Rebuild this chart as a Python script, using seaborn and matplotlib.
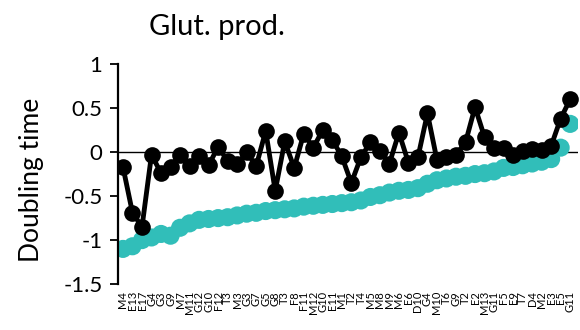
import matplotlib
matplotlib.use("Agg")
import matplotlib.pyplot as plt
import seaborn as sns
import pandas as pd

strains = ["M4", "E13", "E17", "G4", "G3", "G9", "M7", "M11", "G12", "G10",
           "F12", "T3", "M3", "G3", "G7", "G5", "G8", "T3", "F8", "F11",
           "M12", "G10", "E11", "M1", "T2", "T4", "M5", "M8", "M9", "M6",
           "E6", "D10", "G4", "M10", "T6", "G9", "T2", "E2", "M13", "G11",
           "F5", "E9", "T7", "D4", "M2", "E3", "E5", "G11"]

glut_prod = [-0.17, -0.69, -0.85, -0.03, -0.24, -0.17, -0.03, -0.16, -0.05, -0.15,
             0.06, -0.10, -0.14, 0.00, -0.16, 0.24, -0.44, 0.12, -0.18, 0.21,
             0.05, 0.25, 0.14, -0.05, -0.35, -0.06, 0.11, 0.01, -0.13, 0.22,
             -0.12, -0.06, 0.44, -0.09, -0.06, -0.03, 0.11, 0.51, 0.17, 0.05,
             0.05, -0.03, 0.01, 0.03, 0.02, 0.07, 0.38, 0.60]

doubling = [-1.10, -1.07, -1.00, -0.97, -0.93, -0.95, -0.86, -0.81, -0.77, -0.76,
            -0.75, -0.74, -0.72, -0.70, -0.69, -0.67, -0.66, -0.65, -0.64, -0.62,
            -0.61, -0.60, -0.59, -0.58, -0.57, -0.55, -0.51, -0.49, -0.46, -0.44,
            -0.43, -0.41, -0.36, -0.32, -0.30, -0.28, -0.27, -0.25, -0.24, -0.22,
            -0.18, -0.17, -0.15, -0.13, -0.11, -0.08, 0.05, 0.32]

df = pd.DataFrame({"idx": range(len(strains)), "strain": strains,
                   "glut": glut_prod, "dt": doubling})

sns.set_theme(style="white")
plt.rcParams["font.family"] = ["Lato", "DejaVu Sans"]
plt.rcParams["text.color"] = "black"
plt.rcParams["xtick.color"] = "black"
plt.rcParams["ytick.color"] = "black"

fig = plt.figure(figsize=(5.8, 3.3), dpi=100)
ax = fig.add_axes([0.203, 0.139, 0.794, 0.667])

ax.axhline(0, color="black", lw=1.0, zorder=1)

sns.scatterplot(data=df, x="idx", y="dt", ax=ax, color="#31BEB9", s=170,
                edgecolor="none", zorder=2, legend=False)
sns.lineplot(data=df, x="idx", y="glut", ax=ax, color="black", lw=3.5,
             marker="o", markersize=12, markeredgewidth=0, zorder=3)

ax.set_xlim(-0.55, 47.85)
ax.set_ylim(-1.5, 1.0)
ax.set_yticks([-1.5, -1, -0.5, 0, 0.5, 1])
ax.set_yticklabels(["-1.5", "-1", "-0.5", "0", "0.5", "1"], fontsize=16)
ax.set_xticks(df["idx"])
ax.set_xticklabels(df["strain"], rotation=90, fontsize=8)
ax.tick_params(axis="x", length=0, pad=5, colors="black")
ax.tick_params(axis="y", direction="out", length=6, width=1.3, left=True,
               pad=5, colors="black")

for side in ["top", "right", "bottom"]:
    ax.spines[side].set_visible(False)
ax.spines["left"].set_color("black")
ax.spines["left"].set_linewidth(1.6)

ax.set_xlabel("")
ax.set_ylabel("")
fig.text(0.055, 0.455, "Doubling time", rotation=90, fontsize=19,
         ha="center", va="center", color="black")
fig.text(0.257, 0.918, "Glut. prod.", fontsize=21, ha="left", va="center",
         color="black")

fig.savefig("out.png", dpi=100)
